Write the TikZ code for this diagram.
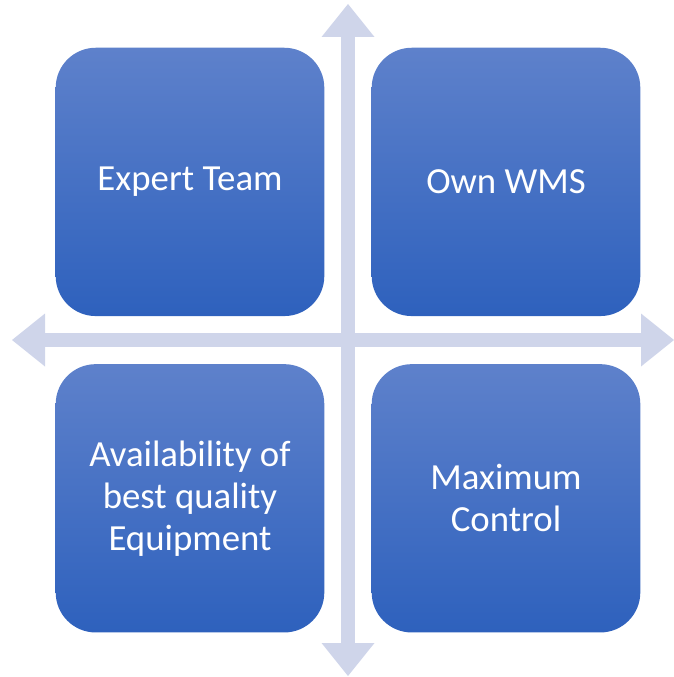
\documentclass[tikz,border=0pt]{standalone}
\usepackage{fontspec}
\setmainfont{Carlito}
\usetikzlibrary{arrows.meta,positioning}
\definecolor{quadtop}{RGB}{94,129,203}
\definecolor{quadbottom}{RGB}{46,97,189}
\definecolor{axisgray}{RGB}{207,213,234}

\begin{document}
\begin{tikzpicture}[x=1pt,y=-1pt,
    quad/.style={rounded corners=40pt, top color=quadtop, bottom color=quadbottom,
        minimum width=268.6pt, minimum height=268.3pt, inner sep=0pt,
        text=white, align=center, font=\fontsize{36.8}{42}\selectfont},
    axis/.style={line width=13.5pt, axisgray,
        {Triangle[width=53pt,length=33pt,line width=0pt]}-{Triangle[width=53pt,length=33pt,line width=0pt]}}]
    \useasboundingbox (0,0) rectangle (674,677);

    % Axes
    \coordinate (north) at (348,4);
    \coordinate (south) at (348,676);
    \coordinate (west) at (12,340);
    \coordinate (east) at (674,340);
    \draw[axis] (north) -- (south);
    \draw[axis] (west) -- (east);

    % Quadrants
    \node[quad] (team) at (190,181.9) {Expert Team};
    \node[quad] (wms) at (506,181.9) {Own WMS};
    \node[quad] (equip) at (190,498.3) {Availability of\\best quality\\Equipment};
    \node[quad] (control) at (506,498.3) {Maximum\\Control};
\end{tikzpicture}
\end{document}
